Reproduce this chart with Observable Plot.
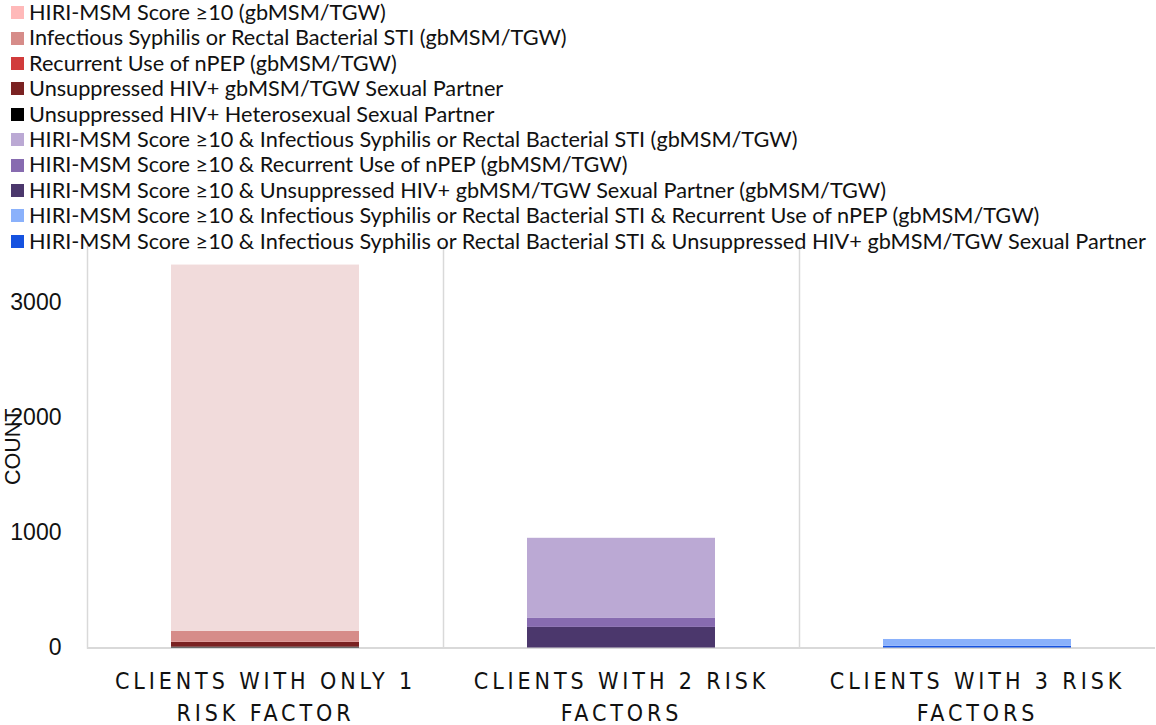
<!DOCTYPE html>
<html>
<head>
<meta charset="utf-8">
<script src="https://cdn.jsdelivr.net/npm/d3@7"></script>
<script src="https://cdn.jsdelivr.net/npm/@observablehq/plot@0.6"></script>
<style>
  html, body { margin: 0; padding: 0; background: #fff; }
  body { width: 1156px; height: 725px; overflow: hidden; position: relative; }
  #legend { position: absolute; left: 0; top: 0; width: 1156px; z-index: 2; font-family: Lato, "Open Sans", sans-serif; font-size: 21.7px; color: #111; }
  .row { height: 25.4px; line-height: 25.4px; white-space: nowrap; overflow: hidden; display: flex; align-items: center; }
  .sw { width: 13px; height: 13px; margin-left: 11px; margin-right: 5px; flex: none; }
  #chart { position: absolute; left: 0; top: 240px; }
  #chart svg { display: block; }
  [aria-label="fx-axis tick label"] text { letter-spacing: 3.9px; }
</style>
</head>
<body>
<div id="chart"></div>
<div id="legend"></div>
<script>
const categories = [
  "CLIENTS WITH ONLY 1\nRISK FACTOR",
  "CLIENTS WITH 2 RISK\nFACTORS",
  "CLIENTS WITH 3 RISK\nFACTORS"
];
const series = [
  "HIRI-MSM Score ≥10 (gbMSM/TGW)",
  "Infectious Syphilis or Rectal Bacterial STI (gbMSM/TGW)",
  "Recurrent Use of nPEP (gbMSM/TGW)",
  "Unsuppressed HIV+ gbMSM/TGW Sexual Partner",
  "Unsuppressed HIV+ Heterosexual Sexual Partner",
  "HIRI-MSM Score ≥10 & Infectious Syphilis or Rectal Bacterial STI (gbMSM/TGW)",
  "HIRI-MSM Score ≥10 & Recurrent Use of nPEP (gbMSM/TGW)",
  "HIRI-MSM Score ≥10 & Unsuppressed HIV+ gbMSM/TGW Sexual Partner (gbMSM/TGW)",
  "HIRI-MSM Score ≥10 & Infectious Syphilis or Rectal Bacterial STI & Recurrent Use of nPEP (gbMSM/TGW)",
  "HIRI-MSM Score ≥10 & Infectious Syphilis or Rectal Bacterial STI & Unsuppressed HIV+ gbMSM/TGW Sexual Partner"
];
const legendColors = ["#ffb9b9", "#d68c89", "#d13b3b", "#7a2222", "#000000", "#bba9d4", "#876bb0", "#4b376c", "#8ab1fb", "#1552e0"];
const barColors    = ["#f1dbdb", "#d68c89", "#d13b3b", "#7a2222", "#000000", "#bba9d4", "#876bb0", "#4b376c", "#8ab1fb", "#1552e0"];
// values per series for [1 factor, 2 factors, 3 factors]
const hiri          = [3184, 0, 0];
const syphilis      = [96, 0, 0];
const npep          = [2, 0, 0];
const hivMsm        = [40, 0, 0];
const hivHetero     = [8, 0, 0];
const hiriSyph      = [0, 697, 0];
const hiriNpep      = [0, 78, 0];
const hiriHiv       = [0, 179, 0];
const hiriSyphNpep  = [0, 0, 59];
const hiriSyphHiv   = [0, 0, 15];
const yTicks = [0, 1000, 2000, 3000];

const valueLists = [hiri, syphilis, npep, hivMsm, hivHetero, hiriSyph, hiriNpep, hiriHiv, hiriSyphNpep, hiriSyphHiv];
const rows = [];
series.forEach((s, i) => categories.forEach((c, j) => rows.push({category: c, series: s, value: valueLists[i][j]})));

// legend
const legend = document.getElementById("legend");
series.forEach((s, i) => {
  const r = document.createElement("div"); r.className = "row";
  const sw = document.createElement("span"); sw.className = "sw"; sw.style.background = legendColors[i];
  const t = document.createElement("span"); t.textContent = s;
  r.appendChild(sw); r.appendChild(t); legend.appendChild(r);
});

const plot = Plot.plot({
  width: 1156,
  height: 485,
  marginTop: 5,
  marginBottom: 77.5,
  marginLeft: 86,
  marginRight: 0,
  style: {fontFamily: "'Liberation Sans', Arial, sans-serif", color: "#111", background: "transparent"},
  fx: {domain: categories, padding: 0, label: null},
  y: {domain: [0, 3500], label: null},
  color: {domain: series, range: barColors},
  marks: [
    Plot.frame({anchor: "left", stroke: "#d9d9d9", strokeWidth: 1.5}),
    Plot.ruleY([0], {stroke: "#d9d9d9", strokeWidth: 2}),
    Plot.barY(rows, Plot.stackY({
      fx: "category", y: "value", fill: "series",
      order: series.slice().reverse(),
      insetLeft: 84, insetRight: 84
    })),
    Plot.axisY({ticks: yTicks, tickSize: 0, tickPadding: 26, fontSize: 23, label: null, tickFormat: d => String(d)}),
    Plot.axisFx({anchor: "bottom", tickSize: 0, tickPadding: 18, fontSize: 23, lineHeight: 1.39, label: null,
                 fontFamily: "'Liberation Sans Narrow', 'DejaVu Sans Condensed', sans-serif"}),
    Plot.text(["COUNT"], {fx: () => categories[0], frameAnchor: "left", textAnchor: "middle", rotate: -90, dx: -74,
                          fontSize: 21.5, fill: "#111"})
  ]
});
document.getElementById("chart").appendChild(plot);
</script>
</body>
</html>
